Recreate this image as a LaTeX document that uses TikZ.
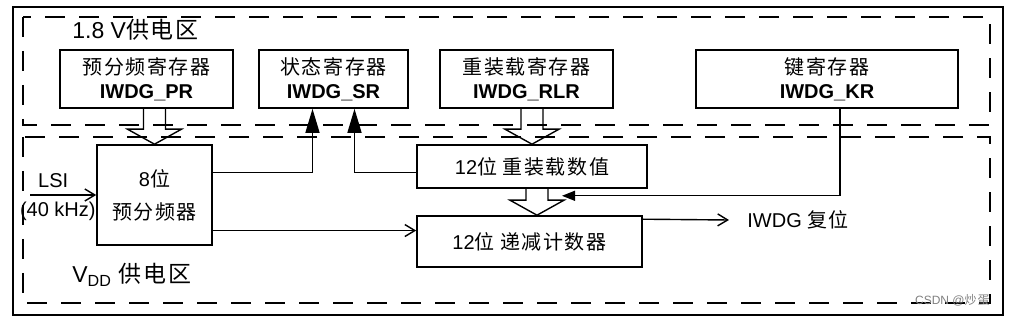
\documentclass[tikz,border=0pt]{standalone}
\usepackage{fontspec}
\setmainfont{Liberation Sans}
\newfontfamily\cjk[LetterSpace=8]{Noto Sans CJK SC}
\usetikzlibrary{arrows.meta,calc}
\newcommand{\zh}[1]{{\cjk #1}}
% hollow wide arrow: #1 = top of shaft, #2 = point giving the tip height
\newcommand{\fatarrow}[2]{%
  \draw[wire] let \p1=(#1), \p2=(#2) in
    (\x1-5.5pt,\y1) -- (\x1-5.5pt,\y2+7.5pt) -- (\x1-13.5pt,\y2+7.5pt) -- (\x1,\y2)
    -- (\x1+13.5pt,\y2+7.5pt) -- (\x1+5.5pt,\y2+7.5pt) -- (\x1+5.5pt,\y1);}

\begin{document}
\begin{tikzpicture}[x=0.5pt,y=-0.5pt,font=\fontsize{10}{12}\selectfont,
  reg/.style={draw,line width=0.8pt,align=center,inner sep=0pt,minimum height=29pt},
  zone/.style={line width=0.7pt,dash pattern=on 10pt off 7pt},
  zonelabel/.style={right,inner sep=0pt,font=\fontsize{11.5}{14}\selectfont},
  wire/.style={line width=0.7pt},
  bigtip/.style={wire,-{Triangle[length=12pt,width=7pt]}},
  smalltip/.style={wire,-{Triangle[length=6.5pt,width=5pt]}},
  opentip/.style={wire,-{Straight Barb[length=5pt,width=6pt]}}]
\useasboundingbox (0,0) rectangle (1009,320);
\draw[line width=1.2pt] (13,7) rectangle (1003,315);
\draw[zone] (23,17) rectangle (990,125);
\draw[zone] (23,137) rectangle (990,303);
\node[zonelabel] (zhi) at (72,30) {1.8 V\zh{供电区}};
\node[zonelabel] (zlo) at (72,275) {V\textsubscript{DD} \zh{供电区}};

% registers (1.8 V zone)
\node[reg,minimum width=86.5pt] (pr)  at (146.5,79) {\zh{预分频寄存器}\\\textbf{IWDG\_PR}};
\node[reg,minimum width=74.5pt] (sr)  at (333.5,79) {\zh{状态寄存器}\\\textbf{IWDG\_SR}};
\node[reg,minimum width=86.5pt] (rlr) at (526.5,79) {\zh{重装载寄存器}\\\textbf{IWDG\_RLR}};
\node[reg,minimum width=131pt]  (kr)  at (827,79)   {\zh{键寄存器}\\\textbf{IWDG\_KR}};

% VDD zone
\node[reg,minimum width=57.5pt,minimum height=50pt] (psc) at (154.5,195) {8\zh{位}\\[4.5pt]\zh{预分频器}};
\node[reg,minimum width=115pt,minimum height=21.5pt] (rv)  at (532,166.5) {12\zh{位} \zh{重装载数值}};
\node[reg,minimum width=112.5pt,minimum height=25.5pt] (cnt) at (529.5,241.5) {12\zh{位} \zh{递减计数器}};
\node[right,inner sep=0pt] (rst) at (747,220) {IWDG \zh{复位}};
\node[left,inner sep=0pt,text=gray,font=\fontsize{6}{7}\selectfont] (wm) at (990,300) {CSDN @\zh{炒蛋}};

\fatarrow{pr.south -| psc.north}{psc.north}
\fatarrow{rlr.south -| rv.north}{rv.north}
\fatarrow{$(rv.south)+(5,0)$}{cnt.north}

\coordinate (srl) at ($(sr.south)+(-21,0)$);
\coordinate (srr) at ($(sr.south)+(21,0)$);
\coordinate (p1) at ($(psc.north east)!0.28!(psc.south east)$);
\coordinate (p2) at ($(psc.north east)!0.85!(psc.south east)$);
\coordinate (kin) at ($(rv.south)+(30,7)$);
\coordinate (lsi) at (30,195);

\draw[bigtip] (p1) -| (srl);
\draw[bigtip] ($(rv.west)+(0,6)$) -| (srr);
\draw[smalltip] ($(kr.south)+(13,0)$) |- (kin);
\draw[opentip] (p2) -- (p2 -| cnt.west);
\draw[opentip] ($(cnt.north east)+(0,4)$) -- ([xshift=-9pt]rst.west);
\draw[opentip] (lsi) -- node[above,pos=0.35] (lsil) {LSI} node[below,pos=0.42] (lsif) {(40 kHz)} (psc.west);
\end{tikzpicture}
\end{document}
